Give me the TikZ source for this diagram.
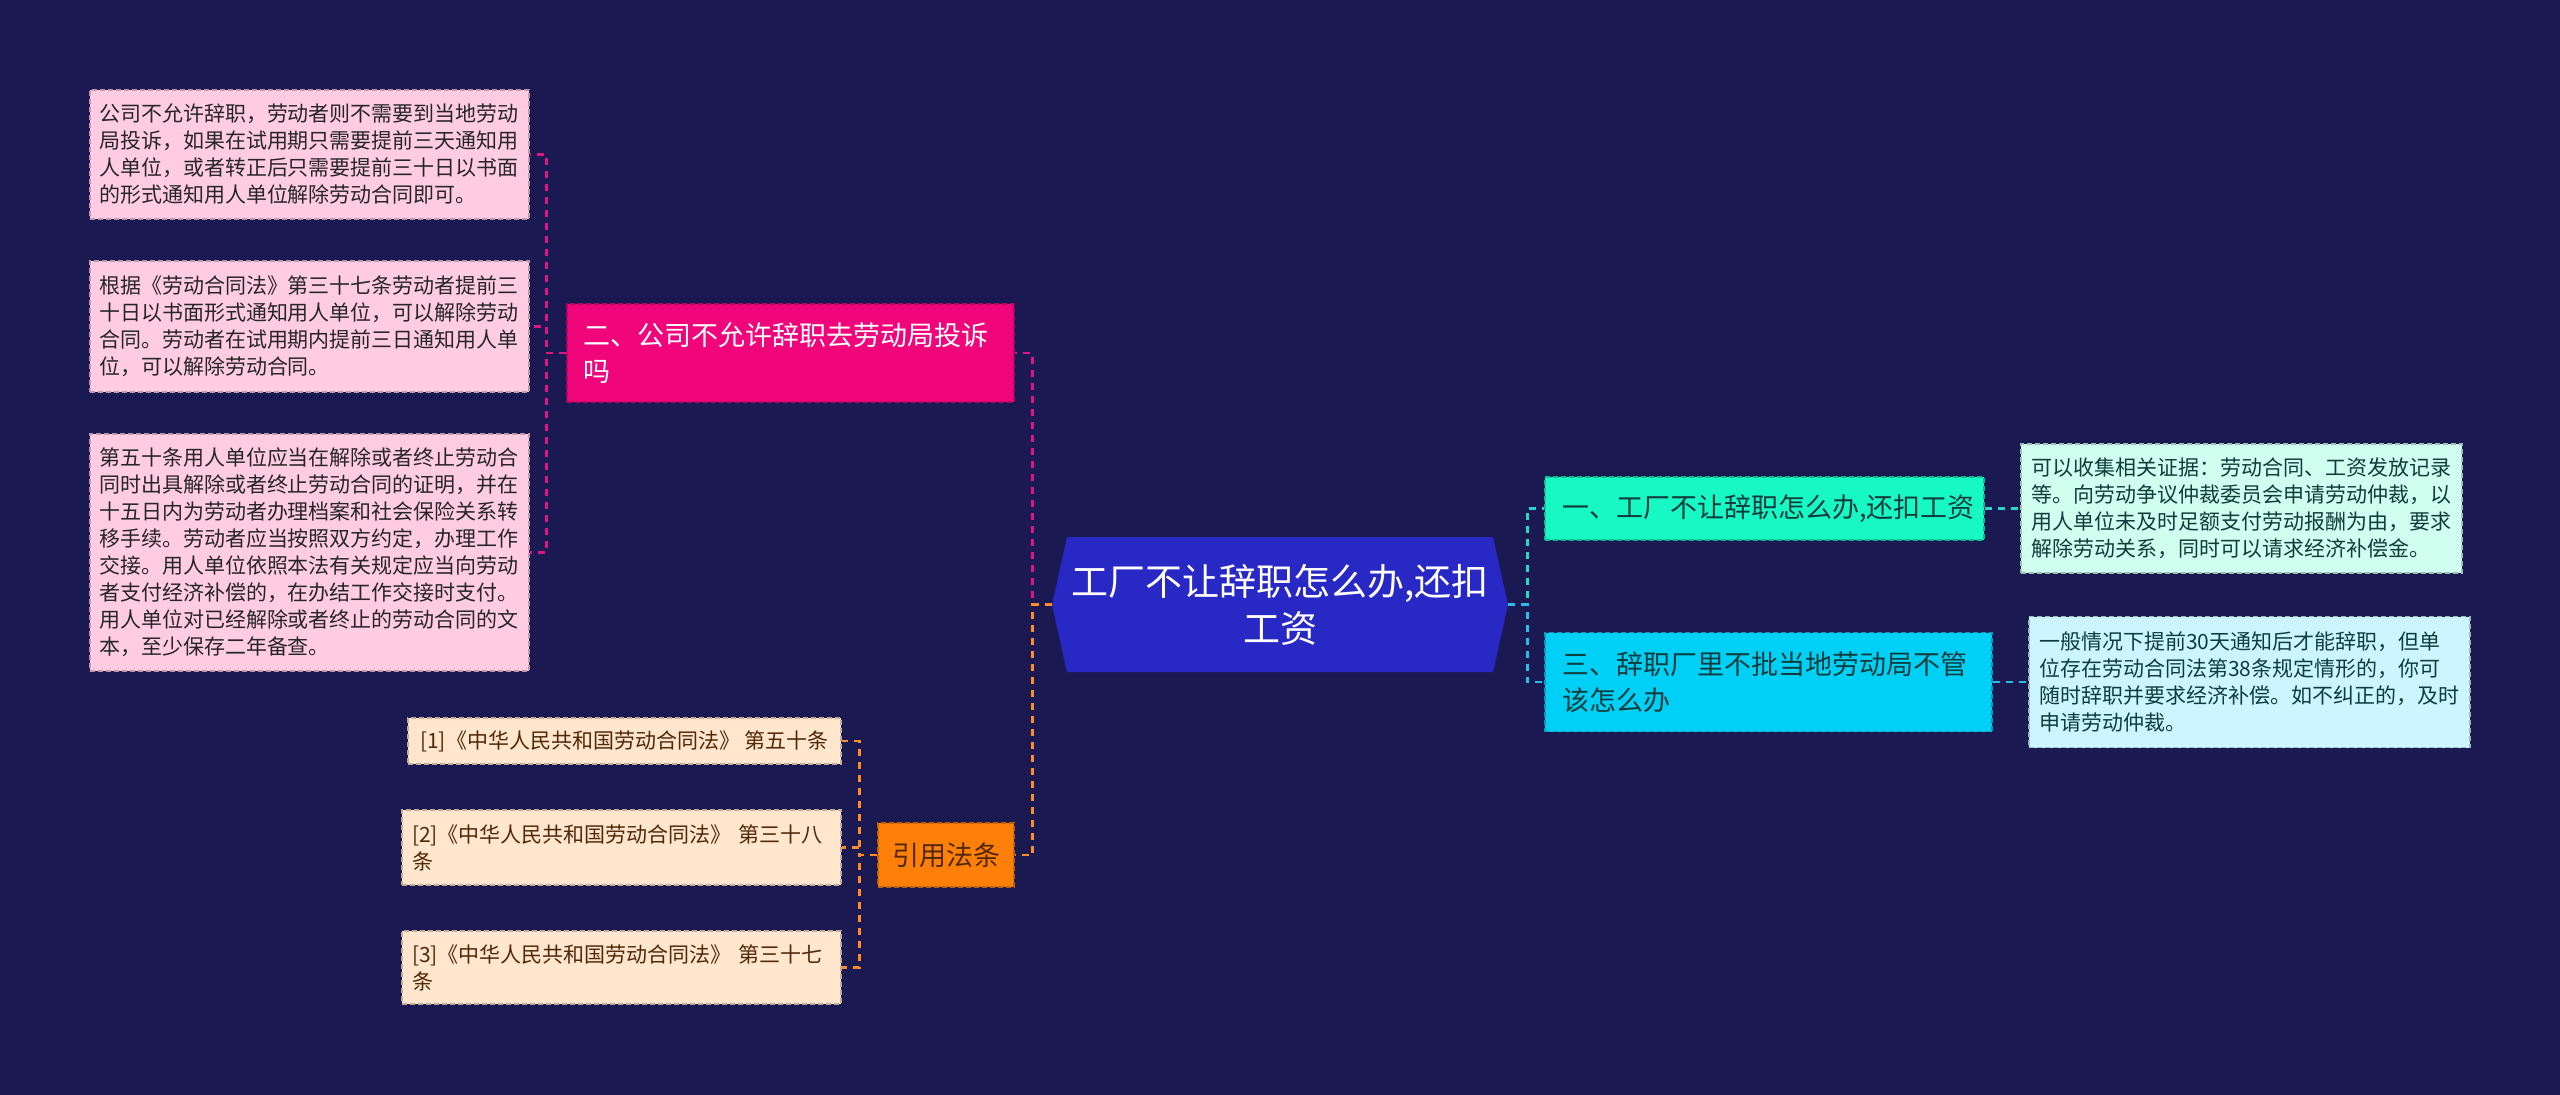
\documentclass[tikz,border=0pt]{standalone}
\usepackage{fontspec}
\setmainfont{Noto Sans CJK SC}
\definecolor{fondo}{RGB}{27,25,82}
\definecolor{azulraiz}{RGB}{40,40,196}
\definecolor{rosa}{RGB}{240,6,122}
\definecolor{rosaclaro}{RGB}{255,204,226}
\definecolor{naranja}{RGB}{255,128,8}
\definecolor{melocoton}{RGB}{255,230,204}
\definecolor{aqua}{RGB}{24,248,196}
\definecolor{cian}{RGB}{0,208,245}
\definecolor{aquaclaro}{RGB}{208,255,240}
\definecolor{cianclaro}{RGB}{204,245,255}
\definecolor{lrosa}{RGB}{224,20,130}
\definecolor{lnaranja}{RGB}{255,140,40}
\definecolor{laqua}{RGB}{40,215,200}
\definecolor{lcian}{RGB}{40,190,230}
\definecolor{tteal}{RGB}{15,60,60}
\definecolor{tmarron}{RGB}{80,40,10}

\begin{document}
\begin{tikzpicture}[x=1pt,y=-1pt,
  caja/.style={fill=#1,draw=#1!75!black,dash pattern=on 5pt off 3pt,line width=1.3pt,inner xsep=9pt,inner ysep=0pt,align=left},
  txtp/.style={font=\fontsize{21}{27}\selectfont},
  txtg/.style={font=\fontsize{27}{36}\selectfont},
  linea/.style={draw=#1,line width=2.9pt,dash pattern=on 7pt off 6pt}]
  \fill[fondo] (0,0) rectangle (2560,1095);
  % nodo central
  \fill[azulraiz] (1067,537)--(1493,537)--(1508,604.5)--(1493,672)--(1067,672)--(1052,604.5)--cycle;
  \node[font=\fontsize{37}{47}\selectfont,text=white,align=center,minimum width=456pt,minimum height=135pt] (raiz) at (1280,604.5) {工厂不让辞职怎么办,还扣\\工资};
  % rama izquierda superior
  \node[caja=rosa,txtg,text=white,inner xsep=16pt,text width=415pt,minimum height=98pt] (rama2) at (790.5,353) {二、公司不允许辞职去劳动局投诉\\吗};
  \node[caja=rosaclaro,txtp,text=black!85,text width=421pt,minimum height=129pt] (hoja1) at (309.5,154.5) {公司不允许辞职，劳动者则不需要到当地劳动\\局投诉，如果在试用期只需要提前三天通知用\\人单位，或者转正后只需要提前三十日以书面\\的形式通知用人单位解除劳动合同即可。};
  \node[caja=rosaclaro,txtp,text=black!85,text width=421pt,minimum height=131pt] (hoja2) at (309.5,326.5) {根据《劳动合同法》第三十七条劳动者提前三\\十日以书面形式通知用人单位，可以解除劳动\\合同。劳动者在试用期内提前三日通知用人单\\位，可以解除劳动合同。};
  \node[caja=rosaclaro,txtp,text=black!85,text width=421pt,minimum height=237pt] (hoja3) at (309.5,552.5) {第五十条用人单位应当在解除或者终止劳动合\\同时出具解除或者终止劳动合同的证明，并在\\十五日内为劳动者办理档案和社会保险关系转\\移手续。劳动者应当按照双方约定，办理工作\\交接。用人单位依照本法有关规定应当向劳动\\者支付经济补偿的，在办结工作交接时支付。\\用人单位对已经解除或者终止的劳动合同的文\\本，至少保存二年备查。};
  % rama izquierda inferior
  \node[caja=naranja,txtg,text=tmarron,align=center,minimum width=136pt,minimum height=64pt] (ley) at (946,855) {引用法条};
  \node[caja=melocoton,txtp,text=tmarron,align=center,minimum width=433pt,minimum height=46pt] (cita1) at (624.5,741) {[1]《中华人民共和国劳动合同法》 第五十条};
  \node[caja=melocoton,txtp,text=tmarron,inner xsep=10pt,text width=419pt,minimum height=75pt] (cita2) at (621.5,847.5) {[2]《中华人民共和国劳动合同法》 第三十八\\条};
  \node[caja=melocoton,txtp,text=tmarron,inner xsep=10pt,text width=419pt,minimum height=73pt] (cita3) at (621.5,967.5) {[3]《中华人民共和国劳动合同法》 第三十七\\条};
  % rama derecha
  \node[caja=aqua,txtg,text=tteal,inner xsep=17pt,text width=405pt,minimum height=63pt] (rama1) at (1764.5,508.5) {一、工厂不让辞职怎么办,还扣工资};
  \node[caja=cian,txtg,text=tteal,inner xsep=17pt,text width=413pt,minimum height=99pt] (rama3) at (1768.5,682) {三、辞职厂里不批当地劳动局不管\\该怎么办};
  \node[caja=aquaclaro,txtp,text=tteal,inner xsep=10pt,text width=421pt,minimum height=129pt] (hojaR1) at (2241.5,508.5) {可以收集相关证据：劳动合同、工资发放记录\\等。向劳动争议仲裁委员会申请劳动仲裁，以\\用人单位未及时足额支付劳动报酬为由，要求\\解除劳动关系，同时可以请求经济补偿金。};
  \node[caja=cianclaro,txtp,text=tteal,inner xsep=10pt,text width=421pt,minimum height=131pt] (hojaR2) at (2249.5,682) {一般情况下提前30天通知后才能辞职，但单\\位存在劳动合同法第38条规定情形的，你可\\随时辞职并要求经济补偿。如不纠正的，及时\\申请劳动仲裁。};
  % conectores
  \draw[linea=lrosa] (raiz.west) -- ++(-19,0) |- (rama2.east);
  \draw[linea=lnaranja] (raiz.west) -- ++(-19,0) |- (ley.east);
  \draw[linea=lrosa] (rama2.west) -- ++(-20,0) |- (hoja1.east);
  \draw[linea=lrosa] (rama2.west) -- ++(-20,0) |- (hoja2.east);
  \draw[linea=lrosa] (rama2.west) -- ++(-20,0) |- (hoja3.east);
  \draw[linea=lnaranja] (ley.west) -- ++(-18,0) |- (cita1.east);
  \draw[linea=lnaranja] (ley.west) -- ++(-18,0) |- (cita2.east);
  \draw[linea=lnaranja] (ley.west) -- ++(-18,0) |- (cita3.east);
  \draw[linea=laqua] (raiz.east) -- ++(19,0) |- (rama1.west);
  \draw[linea=lcian] (raiz.east) -- ++(19,0) |- (rama3.west);
  \draw[linea=laqua] (rama1.east) -- (hojaR1.west);
  \draw[linea=lcian] (rama3.east) -- (hojaR2.west);
\end{tikzpicture}
\end{document}
